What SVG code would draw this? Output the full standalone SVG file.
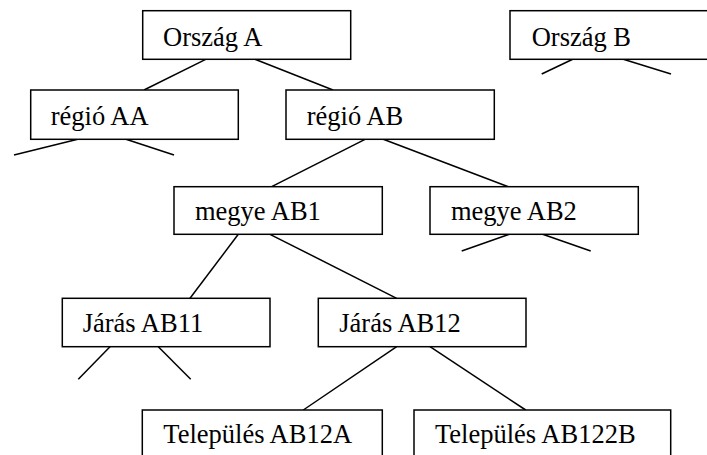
<svg xmlns="http://www.w3.org/2000/svg" width="707" height="455" viewBox="0 0 707 455">
<style>
.box{fill:#fff;stroke:#000;stroke-width:1.5}
.lbl{font-family:'Liberation Serif','Times New Roman',Times,serif;font-size:26.5px;fill:#000}
.con line{stroke:#000;stroke-width:1.5}
</style>
<rect width="707" height="455" fill="#fff"/>
<g class="con" id="connectors">
<line x1="205.7" y1="59.3" x2="144" y2="90"/>
<line x1="255" y1="59.3" x2="333" y2="90"/>
<line x1="572.7" y1="59.3" x2="541.7" y2="74"/>
<line x1="623.3" y1="59.3" x2="671" y2="74"/>
<line x1="77.7" y1="139.3" x2="14" y2="155"/>
<line x1="126" y1="139.3" x2="174" y2="155"/>
<line x1="365" y1="139.3" x2="271.7" y2="186.7"/>
<line x1="383.3" y1="139.3" x2="508.3" y2="186.7"/>
<line x1="509.3" y1="234.3" x2="461.7" y2="251"/>
<line x1="542.7" y1="234.3" x2="590.7" y2="251"/>
<line x1="238.3" y1="234.3" x2="190" y2="298.3"/>
<line x1="270" y1="234.3" x2="396.7" y2="298.3"/>
<line x1="110" y1="346.7" x2="78.3" y2="379.3"/>
<line x1="158.3" y1="346.7" x2="190.7" y2="379.3"/>
<line x1="396.7" y1="346.7" x2="303.3" y2="410"/>
<line x1="430" y1="346.7" x2="525.7" y2="410"/>
</g>
<g font-family="'Liberation Serif', 'Times New Roman', serif" font-size="26.5">
<g id="orszag-a"><rect class="box" x="142.7" y="10.7" width="208" height="48.6"/><text class="lbl" x="163" y="45.7">Ország A</text></g>
<g id="orszag-b"><rect class="box" x="510" y="10.7" width="220" height="48.6"/><text class="lbl" x="531.7" y="45.7">Ország B</text></g>
<g id="regio-aa"><rect class="box" x="30.7" y="90" width="207.6" height="49.3"/><text class="lbl" x="50.7" y="124.5">régió AA</text></g>
<g id="regio-ab"><rect class="box" x="286" y="90" width="208.3" height="49.3"/><text class="lbl" x="306.7" y="124.5">régió AB</text></g>
<g id="megye-ab1"><rect class="box" x="174" y="186.7" width="208.3" height="47.6"/><text class="lbl" x="195" y="220">megye AB1</text></g>
<g id="megye-ab2"><rect class="box" x="430" y="186.7" width="208.3" height="47.6"/><text class="lbl" x="451" y="220">megye AB2</text></g>
<g id="jaras-ab11"><rect class="box" x="62.3" y="298.3" width="207.7" height="48.4"/><text class="lbl" x="82.7" y="332.3">Járás AB11</text></g>
<g id="jaras-ab12"><rect class="box" x="318.3" y="298.3" width="207.7" height="48.4"/><text class="lbl" x="339.3" y="332.3">Járás AB12</text></g>
<g id="telepules-ab12a"><rect class="box" x="142.3" y="410" width="240" height="60"/><text class="lbl" x="163.3" y="443.3">Település AB12A</text></g>
<g id="telepules-ab122b"><rect class="box" x="414" y="410" width="256.7" height="60"/><text class="lbl" x="435" y="443.3">Település AB122B</text></g>
</g>
</svg>
